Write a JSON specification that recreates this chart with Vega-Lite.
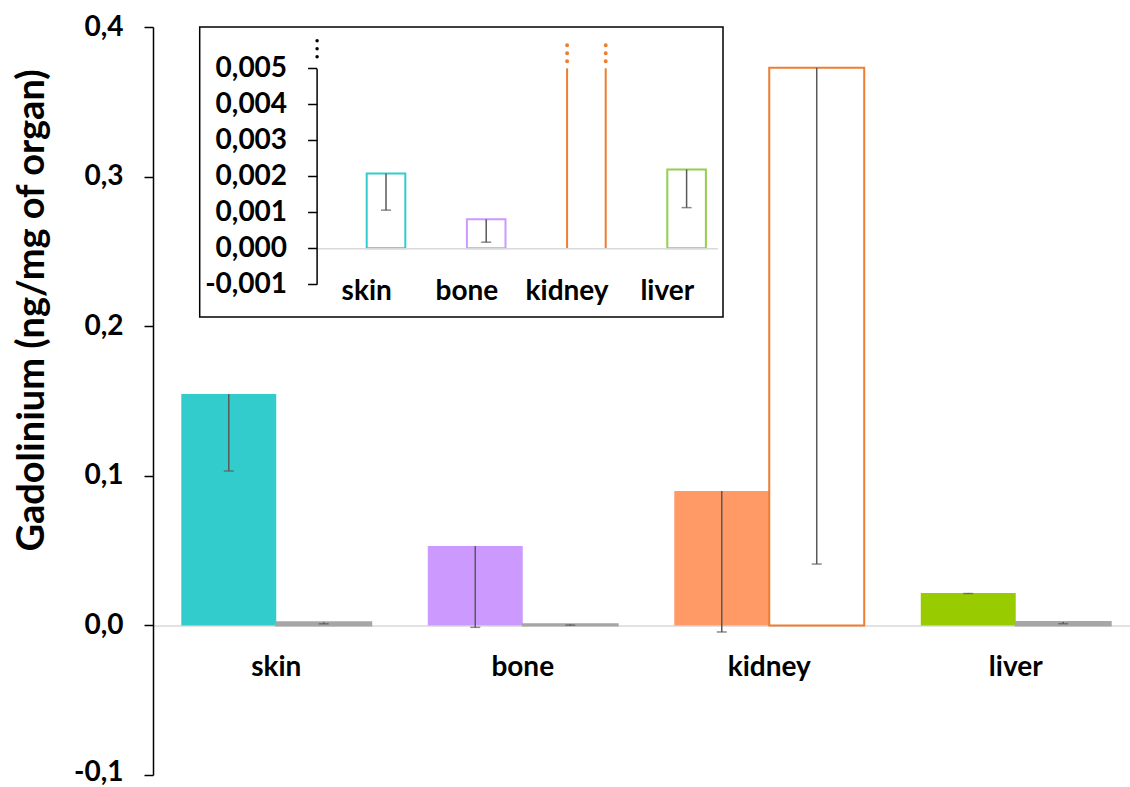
{
  "$schema": "https://vega.github.io/schema/vega-lite/v6.json",
  "width": 986,
  "height": 748,
  "autosize": "none",
  "padding": {"left": 153, "top": 27, "right": 0, "bottom": 12},
  "background": "white",
  "config": {
    "view": {"stroke": null},
    "font": "Lato",
    "axis": {"labelFont": "Lato", "labelFontWeight": "bold", "labelColor": "#000", "grid": false, "titleFont": "Lato", "titleColor": "#000", "titleFontWeight": "bold"}
  },
  "data": {
    "values": [
      {"organ": "skin", "series": "a", "value": 0.1547, "low": 0.1032},
      {"organ": "skin", "series": "b", "value": 0.00208, "low": 0.00106},
      {"organ": "bone", "series": "a", "value": 0.0531, "low": -0.0013},
      {"organ": "bone", "series": "b", "value": 0.00081, "low": 0.00017},
      {"organ": "kidney", "series": "a", "value": 0.0898, "low": -0.0044},
      {"organ": "kidney", "series": "b", "value": 0.3728, "low": 0.041},
      {"organ": "liver", "series": "a", "value": 0.0217, "low": 0.0213},
      {"organ": "liver", "series": "b", "value": 0.00219, "low": 0.00113}
    ]
  },
  "layer": [
    {
      "layer": [
        {
          "transform": [{"filter": "datum.series === 'a'"}],
          "mark": {"type": "bar"},
          "encoding": {
            "x": {"field": "organ", "type": "nominal", "sort": ["skin", "bone", "kidney", "liver"],
              "scale": {"paddingInner": 0.2295, "paddingOuter": 0.1148},
              "axis": {"orient": "bottom", "offset": -149.6, "domainColor": "#d9d9d9", "domainWidth": 1.5, "ticks": false, "tickSize": 0, "labelPadding": 28, "labelFontSize": 28, "labelAngle": 0, "title": null}},
            "xOffset": {"field": "series", "type": "nominal", "scale": {"domain": ["a", "b"], "paddingInner": 0, "paddingOuter": 0}},
            "y": {"field": "value", "type": "quantitative", "title": "Gadolinium (ng/mg of organ)",
              "scale": {"domain": [-0.1, 0.4], "nice": false},
              "axis": {"values": [-0.1, 0, 0.1, 0.2, 0.3, 0.4], "labelExpr": "replace(replace(format(datum.value, '.1f'), '.', ','), '−', '-')", "labelFontSize": 28, "labelOffset": {"condition": {"test": "datum.value < -0.05", "value": -3}, "value": 0}, "domainColor": "#000", "domainWidth": 1.5, "tickColor": "#000", "tickWidth": 1.5, "tickSize": 9, "labelPadding": 21, "titleFontSize": 38, "titleX": -121, "titleY": 283, "titleAngle": -90, "titleAlign": "center", "titleBaseline": "middle"}},
            "fill": {"field": "organ", "type": "nominal", "legend": null,
              "scale": {"domain": ["skin", "bone", "kidney", "liver"], "range": ["#33CCCC", "#CC99FF", "#FF9966", "#99CC00"]}}
          }
        },
        {
          "transform": [{"filter": "datum.series === 'b'"}],
          "mark": {"type": "bar", "strokeWidth": 2},
          "encoding": {
            "x": {"field": "organ", "type": "nominal", "sort": ["skin", "bone", "kidney", "liver"]},
            "xOffset": {"field": "series", "type": "nominal"},
            "y": {"field": "value", "type": "quantitative", "title": "Gadolinium (ng/mg of organ)"},
            "fill": {"condition": {"test": "datum.value < 0.01", "value": "#a6a6a6"}, "value": "white"},
            "stroke": {"condition": {"test": "datum.value < 0.01", "value": "#a6a6a6"}, "field": "organ", "type": "nominal", "legend": null,
              "scale": {"domain": ["skin", "bone", "kidney", "liver"], "range": ["#33CCCC", "#CC99FF", "#ED7D31", "#92D050"]}}
          }
        },
        {
          "mark": {"type": "rule", "color": "#595959", "strokeWidth": 1.5},
          "encoding": {
            "x": {"field": "organ", "type": "nominal", "sort": ["skin", "bone", "kidney", "liver"]},
            "xOffset": {"field": "series", "type": "nominal"},
            "y": {"field": "value", "type": "quantitative", "title": "Gadolinium (ng/mg of organ)"},
            "y2": {"field": "low"}
          }
        },
        {
          "mark": {"type": "tick", "color": "#595959", "thickness": 1.5, "size": 10, "orient": "horizontal"},
          "encoding": {
            "x": {"field": "organ", "type": "nominal", "sort": ["skin", "bone", "kidney", "liver"]},
            "xOffset": {"field": "series", "type": "nominal"},
            "y": {"field": "low", "type": "quantitative", "title": "Gadolinium (ng/mg of organ)"}
          }
        }
      ]
    },
    {
      "data": {"values": [{}]},
      "mark": {"type": "rect", "filled": false, "stroke": "#000", "strokeWidth": 1.5},
      "encoding": {
        "x": {"datum": 0, "type": "quantitative", "scale": {"domain": [0, 1], "range": [46.7, 570]}, "axis": null},
        "x2": {"datum": 1},
        "y": {"datum": 0, "type": "quantitative", "scale": {"domain": [0, 1], "range": [0, 290]}, "axis": null},
        "y2": {"datum": 1}
      }
    },
    {
      "transform": [{"filter": "datum.series === 'b'"}],
      "layer": [
        {
          "layer": [
            {
              "transform": [{"filter": "datum.organ !== 'kidney'"}],
              "mark": {"type": "bar", "fill": "white", "strokeWidth": 2},
              "encoding": {
                "x": {"field": "organ", "type": "nominal", "sort": ["skin", "bone", "kidney", "liver"],
                  "scale": {"domain": ["skin", "bone", "kidney", "liver"], "range": [163.6, 564.4], "paddingInner": 0.2295, "paddingOuter": 0.1148},
                  "axis": {"orient": "bottom", "offset": -526.7, "zindex": 1, "domainColor": "#d9d9d9", "domainWidth": 1.5, "ticks": false, "tickSize": 0, "labelPadding": 29, "labelFontSize": 28, "labelAngle": 0, "title": null}},
                "xOffset": {"field": "series", "type": "nominal", "scale": {"domain": ["a", "b"], "paddingInner": 0, "paddingOuter": 0}},
                "y": {"field": "value", "type": "quantitative", "title": null,
                  "scale": {"domain": [-0.001, 0.005], "range": [257.3, 41.3], "nice": false, "clamp": true},
                  "axis": {"orient": "left", "offset": -163.6, "zindex": 1, "values": [-0.001, 0, 0.001, 0.002, 0.003, 0.004, 0.005], "labelExpr": "replace(replace(format(datum.value, '.3f'), '.', ','), '−', '-')", "labelFontSize": 28, "domainColor": "#000", "domainWidth": 1.5, "tickColor": "#000", "tickWidth": 1.5, "tickSize": 9, "labelPadding": 21, "title": null}},
                "stroke": {"field": "organ", "type": "nominal", "legend": null,
                  "scale": {"domain": ["skin", "bone", "kidney", "liver"], "range": ["#33CCCC", "#CC99FF", "#ED7D31", "#92D050"]}}
              }
            },
            {
              "transform": [{"filter": "datum.organ === 'kidney'"}],
              "mark": {"type": "rule", "color": "#ED7D31", "strokeWidth": 2},
              "encoding": {
                "x": {"field": "organ", "type": "nominal", "sort": ["skin", "bone", "kidney", "liver"], "bandPosition": 0.5},
                "y": {"field": "value", "type": "quantitative", "title": null},
                "y2": {"datum": 0}
              }
            },
            {
              "transform": [{"filter": "datum.organ === 'kidney'"}],
              "mark": {"type": "rule", "color": "#ED7D31", "strokeWidth": 2},
              "encoding": {
                "x": {"field": "organ", "type": "nominal", "sort": ["skin", "bone", "kidney", "liver"], "bandPosition": 1},
                "y": {"field": "value", "type": "quantitative", "title": null},
                "y2": {"datum": 0}
              }
            },
            {
              "transform": [{"filter": "datum.organ !== 'kidney'"}],
              "mark": {"type": "rule", "color": "#595959", "strokeWidth": 1.5},
              "encoding": {
                "x": {"field": "organ", "type": "nominal", "sort": ["skin", "bone", "kidney", "liver"]},
                "xOffset": {"field": "series", "type": "nominal"},
                "y": {"field": "value", "type": "quantitative", "title": null},
                "y2": {"field": "low"}
              }
            },
            {
              "transform": [{"filter": "datum.organ !== 'kidney'"}],
              "mark": {"type": "tick", "color": "#595959", "thickness": 1.5, "size": 10, "orient": "horizontal"},
              "encoding": {
                "x": {"field": "organ", "type": "nominal", "sort": ["skin", "bone", "kidney", "liver"]},
                "xOffset": {"field": "series", "type": "nominal"},
                "y": {"field": "low", "type": "quantitative", "title": null}
              }
            }
          ]
        },
        {
          "transform": [{"filter": "datum.organ === 'kidney'"}],
          "layer": [
            {
              "mark": {"type": "rule", "color": "#ED7D31", "strokeWidth": 4, "strokeCap": "round", "strokeDash": [0, 8]},
              "encoding": {
                "x": {"field": "organ", "type": "nominal", "sort": ["skin", "bone", "kidney", "liver"], "bandPosition": 0.5},
                "y": {"datum": 0.0052, "type": "quantitative", "scale": {"domain": [0.00534, 0.00579], "range": [29.2, 13], "nice": false, "zero": false},
                  "axis": {"orient": "left", "offset": -163.6, "zindex": 1, "domainDash": [0, 8], "domainCap": "round", "domainWidth": 3.5, "domainColor": "#000", "ticks": false, "labels": false, "title": null, "grid": false}},
                "y2": {"datum": 0.00568}
              }
            },
            {
              "mark": {"type": "rule", "color": "#ED7D31", "strokeWidth": 4, "strokeCap": "round", "strokeDash": [0, 8]},
              "encoding": {
                "x": {"field": "organ", "type": "nominal", "sort": ["skin", "bone", "kidney", "liver"], "bandPosition": 1},
                "y": {"datum": 0.0052, "type": "quantitative"},
                "y2": {"datum": 0.00568}
              }
            }
          ]
        }
      ],
      "resolve": {"scale": {"y": "independent"}, "axis": {"y": "independent"}}
    }
  ],
  "resolve": {
    "scale": {"x": "independent", "y": "independent", "xOffset": "independent", "fill": "independent", "stroke": "independent"},
    "axis": {"x": "independent", "y": "independent"}
  }
}
